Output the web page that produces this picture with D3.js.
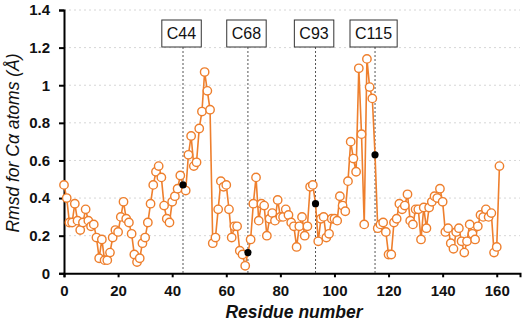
<!DOCTYPE html>
<html>
<head>
<meta charset="utf-8">
<script src="https://cdn.jsdelivr.net/npm/d3@7"></script>
<style>
  body { margin: 0; background: #fff; }
  svg { display: block; font-family: "Liberation Sans", Arial, sans-serif; }
</style>
</head>
<body>
<div id="chart"></div>
<script>
const width = 526, height = 324;

// rmsd per residue (0..161)
const rmsd = [
  0.47, 0.40, 0.27, 0.27, 0.37, 0.28, 0.23, 0.27, 0.34, 0.28,
  0.25, 0.26, 0.19, 0.08, 0.18, 0.07, 0.07, 0.11, 0.19, 0.23,
  0.22, 0.30, 0.38, 0.29, 0.27, 0.21, 0.10, 0.06, 0.08, 0.16,
  0.19, 0.27, 0.37, 0.47, 0.54, 0.57, 0.51, 0.36, 0.29, 0.27,
  0.38, 0.41, 0.45, 0.52, 0.47, 0.44, 0.63, 0.73, 0.57, 0.59,
  0.77, 0.86, 1.07, 0.97, 0.87, 0.16, 0.19, 0.34, 0.49, 0.46,
  0.47, 0.34, 0.19, 0.25, 0.25, 0.12, 0.10, 0.04, 0.11, 0.18,
  0.37, 0.51, 0.28, 0.37, 0.36, 0.20, 0.29, 0.32, 0.28, 0.39,
  0.30, 0.30, 0.34, 0.31, 0.27, 0.25, 0.14, 0.25, 0.30, 0.20,
  0.25, 0.46, 0.47, 0.37, 0.17, 0.29, 0.30, 0.19, 0.21, 0.29,
  0.29, 0.28, 0.41, 0.36, 0.33, 0.49, 0.70, 0.61, 0.54, 1.09,
  0.74, 0.26, 1.14, 0.99, 0.93, 0.63, 0.24, 0.26, 0.27, 0.22,
  0.10, 0.10, 0.27, 0.29, 0.37, 0.34, 0.36, 0.42, 0.28, 0.26,
  0.34, 0.34, 0.18, 0.35, 0.24, 0.35, 0.38, 0.41, 0.40, 0.45,
  0.38, 0.22, 0.24, 0.16, 0.13, 0.22, 0.24, 0.17, 0.11, 0.17,
  0.26, 0.21, 0.18, 0.25, 0.31, 0.30, 0.34, 0.30, 0.32, 0.11,
  0.14, 0.57
];
const cysteines = [44, 68, 93, 115];
const cysLabels = ["C44", "C68", "C93", "C115"];
const xTicks = [0, 20, 40, 60, 80, 100, 120, 140, 160];
const yTicks = [0, 0.2, 0.4, 0.6, 0.8, 1, 1.2, 1.4];

const orange = "#ee7f2d";

const svg = d3.select("#chart").append("svg")
    .attr("width", width)
    .attr("height", height);

const x = d3.scaleLinear().domain([0, 168.6]).range([64, 520]);
const y = d3.scaleLinear().domain([0, 1.4]).range([273.3, 10]);

// gridlines
svg.append("g")
    .selectAll("line")
    .data(yTicks.slice(1))
    .enter()
    .append("line")
    .attr("x1", x(0))
    .attr("x2", 520)
    .attr("y1", d => y(d))
    .attr("y2", d => y(d))
    .attr("stroke", "#d6d6d6")
    .attr("stroke-width", 1)
    .attr("stroke-dasharray", "2,3");

// axes
const yAxis = svg.append("g")
    .attr("transform", `translate(${x(0)},0)`)
    .call(d3.axisLeft(y).tickValues(yTicks).tickFormat(d3.format("~g"))
        .tickSize(5).tickPadding(9));
const xAxis = svg.append("g")
    .attr("transform", `translate(0,${y(0)})`)
    .call(d3.axisBottom(x).tickValues(xTicks).tickSize(4).tickPadding(8));

[xAxis, yAxis].forEach(g => {
    g.select(".domain").attr("stroke", "#000").attr("stroke-width", 2);
    g.selectAll(".tick line").attr("stroke", "#000").attr("stroke-width", 2);
    g.selectAll(".tick text")
        .attr("fill", "#111")
        .style("font-size", "15px")
        .style("font-weight", "bold");
});

// dashed markers for cysteines
svg.append("g")
    .selectAll("line")
    .data(cysteines)
    .enter()
    .append("line")
    .attr("x1", d => x(d))
    .attr("x2", d => x(d))
    .attr("y1", 47)
    .attr("y2", y(0))
    .attr("stroke", "#555")
    .attr("stroke-width", 1)
    .attr("stroke-dasharray", "2,2");

// label boxes
const boxes = svg.append("g")
    .selectAll("g")
    .data(cysteines)
    .enter()
    .append("g");

boxes.append("rect");
boxes.append("text")
    .attr("x", d => x(d) - 1.5)
    .attr("y", 39)
    .attr("text-anchor", "middle")
    .style("font-size", "16px")
    .attr("fill", "#111")
    .text((d, i) => cysLabels[i]);

boxes.each(function () {
    const g = d3.select(this);
    const bb = g.select("text").node().getBBox();
    g.select("rect")
        .attr("x", bb.x - 5)
        .attr("y", 20)
        .attr("width", bb.width + 10)
        .attr("height", 27)
        .attr("fill", "#fff")
        .attr("stroke", "#333")
        .attr("stroke-width", 1);
});

// series line
const line = d3.line()
    .x((d, i) => x(i))
    .y(d => y(d));

svg.append("path")
    .datum(rmsd)
    .attr("d", line)
    .attr("fill", "none")
    .attr("stroke", orange)
    .attr("stroke-width", 1.6);

// markers
svg.append("g")
    .selectAll("circle")
    .data(rmsd)
    .enter()
    .append("circle")
    .attr("cx", (d, i) => x(i))
    .attr("cy", d => y(d))
    .attr("r", d => 4.2)
    .attr("fill", "#fff")
    .attr("stroke", orange)
    .attr("stroke-width", 1.4)
    .attr("display", (d, i) => cysteines.includes(i) ? "none" : null);

svg.append("g")
    .selectAll("circle")
    .data(cysteines)
    .enter()
    .append("circle")
    .attr("cx", d => x(d))
    .attr("cy", d => y(rmsd[d]))
    .attr("r", 3.6)
    .attr("fill", "#000");

// axis titles
svg.append("text")
    .attr("x", 294)
    .attr("y", 318)
    .attr("text-anchor", "middle")
    .style("font-size", "17.5px")
    .style("font-weight", "bold")
    .style("font-style", "italic")
    .attr("fill", "#111")
    .text("Residue number");

svg.append("text")
    .attr("transform", "translate(19,143) rotate(-90)")
    .attr("text-anchor", "middle")
    .style("font-size", "17.5px")
    .style("font-style", "italic")
    .attr("fill", "#111")
    .text("Rmsd for Cα atoms (Å)");
</script>
</body>
</html>
